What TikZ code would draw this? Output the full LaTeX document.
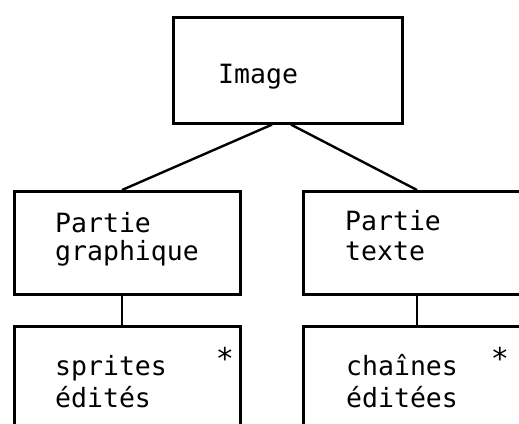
\documentclass[tikz,border=0pt]{standalone}
\usepackage{fontspec}
\newfontfamily\monofont{DejaVu Sans Mono}
\begin{document}
\begin{tikzpicture}[x=1pt,y=-1pt,
  box/.style={draw=black, line width=2.6pt, rectangle, inner sep=0pt, anchor=north west},
  txt/.style={anchor=base west, inner sep=0pt, font=\monofont\fontsize{26.5}{29}\selectfont},
  star/.style={anchor=base, inner sep=0pt, font=\monofont\fontsize{30}{30}\selectfont},
  link/.style={draw=black, line width=2.4pt}]
\useasboundingbox (0,0) rectangle (519,423);
\fill[white] (0,0) rectangle (519,423);
\clip (0,0) rectangle (519,423);
% boxes
\node[box, minimum width=229pt, minimum height=106pt] (img) at (172,16) {};
\node[box, minimum width=226pt, minimum height=103pt] (pg) at (13,190) {};
\node[box, minimum width=240pt, minimum height=103pt] (pt) at (302,190) {};
\node[box, minimum width=226pt, minimum height=130pt] (sp) at (13,325) {};
\node[box, minimum width=240pt, minimum height=130pt] (ch) at (302,325) {};
% texts
\node[txt] (timg) at (218,83) {Image};
\node[txt] (tpg1) at (55,232) {Partie};
\node[txt] (tpg2) at (55,260.5) {graphique};
\node[txt] (tpt1) at (345,230) {Partie};
\node[txt] (tpt2) at (345,260.5) {texte};
\node[txt] (tsp1) at (55,375) {sprites};
\node[txt] (tsp2) at (55,407) {édités};
\node[txt] (tch1) at (346,375) {chaînes};
\node[txt] (tch2) at (346,407) {éditées};
\node[star] (ssp) at (225,369) {*};
\node[star] (sch) at (500,369) {*};
% connectors
\draw[link] ([xshift=100pt]img.south west) -- ([xshift=109pt]pg.north west);
\draw[link] ([xshift=119pt]img.south west) -- ([xshift=115pt]pt.north west);
\draw[link] ([xshift=109pt]pg.south west) -- ([xshift=109pt]sp.north west);
\draw[link] ([xshift=115pt]pt.south west) -- ([xshift=115pt]ch.north west);
\end{tikzpicture}
\end{document}
